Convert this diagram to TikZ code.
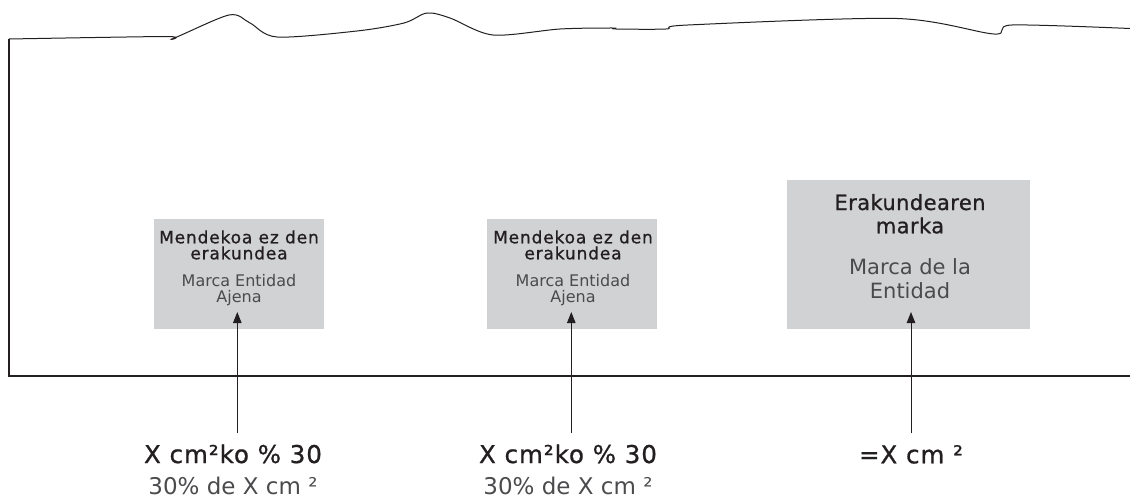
\documentclass[tikz,border=0pt]{standalone}
\usepackage{fontspec}
\setmainfont{DejaVu Sans}
\newfontfamily\medfont[FakeBold=0.9]{DejaVu Sans}
\usetikzlibrary{arrows.meta}
\definecolor{BoxClr}{RGB}{209,210,212}
\definecolor{InkClr}{RGB}{35,31,32}
\definecolor{LightClr}{RGB}{75,75,78}

\begin{document}
\begin{tikzpicture}[x=1pt,y=-1pt,
  markbox/.style={fill=BoxClr,draw=none,inner sep=0pt,anchor=north west},
  smalltitle/.style={anchor=base,align=center,inner sep=0pt,text=InkClr,font=\medfont\addfontfeatures{LetterSpace=5}\fontsize{17}{16}\selectfont},
  smallsub/.style={anchor=base,align=center,inner sep=0pt,text=LightClr,font=\fontsize{16}{16}\selectfont},
  bigtitle/.style={anchor=base,align=center,inner sep=0pt,text=InkClr,font=\medfont\addfontfeatures{LetterSpace=2}\fontsize{21}{23.3}\selectfont},
  bigsub/.style={anchor=base,align=center,inner sep=0pt,text=LightClr,font=\fontsize{21}{24}\selectfont},
  sizelabel/.style={anchor=base,align=center,inner sep=0pt,text=InkClr,font=\fontsize{23}{31}\selectfont},
  pointer/.style={draw=InkClr,line width=1pt,-{Triangle[length=11pt,width=8.5pt]}}]
\useasboundingbox (0,0) rectangle (1130,500);

% page edge
\draw[InkClr,line width=1pt] plot[smooth,tension=0.5] coordinates {(9,39) (166,36.5) (173,38.5) (229,15) (250,23) (277,37) (357,31) (404,23) (427,13) (450,18) (493,35) (560,29) (612,28) (616,29) (666,29) (688,25) (897,18.5) (994,34) (1012,25) (1130,28.5)};
\draw[InkClr,line width=1.4pt] (9,39) -- (9,376) -- (1130,376);

% marks
\node[markbox,minimum width=170pt,minimum height=110pt] (box1) at (154,219) {};
\node[markbox,minimum width=170pt,minimum height=110pt] (box2) at (487,219) {};
\node[markbox,minimum width=243pt,minimum height=149pt] (box3) at (787,180) {};

\node[smalltitle] (t1) at (239,259.3) {Mendekoa ez den\\erakundea};
\node[smallsub] (s1) at (239,302) {Marca Entidad\\Ajena};
\node[smalltitle] (t2) at (573,259.3) {Mendekoa ez den\\erakundea};
\node[smallsub] (s2) at (573,302) {Marca Entidad\\Ajena};
\node[bigtitle] (t3) at (910,233.3) {Erakundearen\\marka};
\node[bigsub] (s3) at (910,298) {Marca de la\\Entidad};

% sizes
\node[sizelabel] (l1) at (233,494) {{\medfont\addfontfeatures{LetterSpace=4}\fontsize{24.5}{31}\selectfont X cm²ko \% 30}\\\textcolor{LightClr}{30\% de X cm ²}};
\node[sizelabel] (l2) at (568,494) {{\medfont\addfontfeatures{LetterSpace=4}\fontsize{24.5}{31}\selectfont X cm²ko \% 30}\\\textcolor{LightClr}{30\% de X cm ²}};
\node[sizelabel] (l3) at (911,463.3) {{\medfont\addfontfeatures{LetterSpace=4}\fontsize{24.5}{31}\selectfont =X cm ²}};

\coordinate (a1) at (237.3,433);
\coordinate (a2) at (571.3,433);
\coordinate (a3) at (911,433);
\draw[pointer] (a1) -- (a1 |- 0,312);
\draw[pointer] (a2) -- (a2 |- 0,312);
\draw[pointer] (a3) -- (a3 |- 0,312);

\end{tikzpicture}
\end{document}
